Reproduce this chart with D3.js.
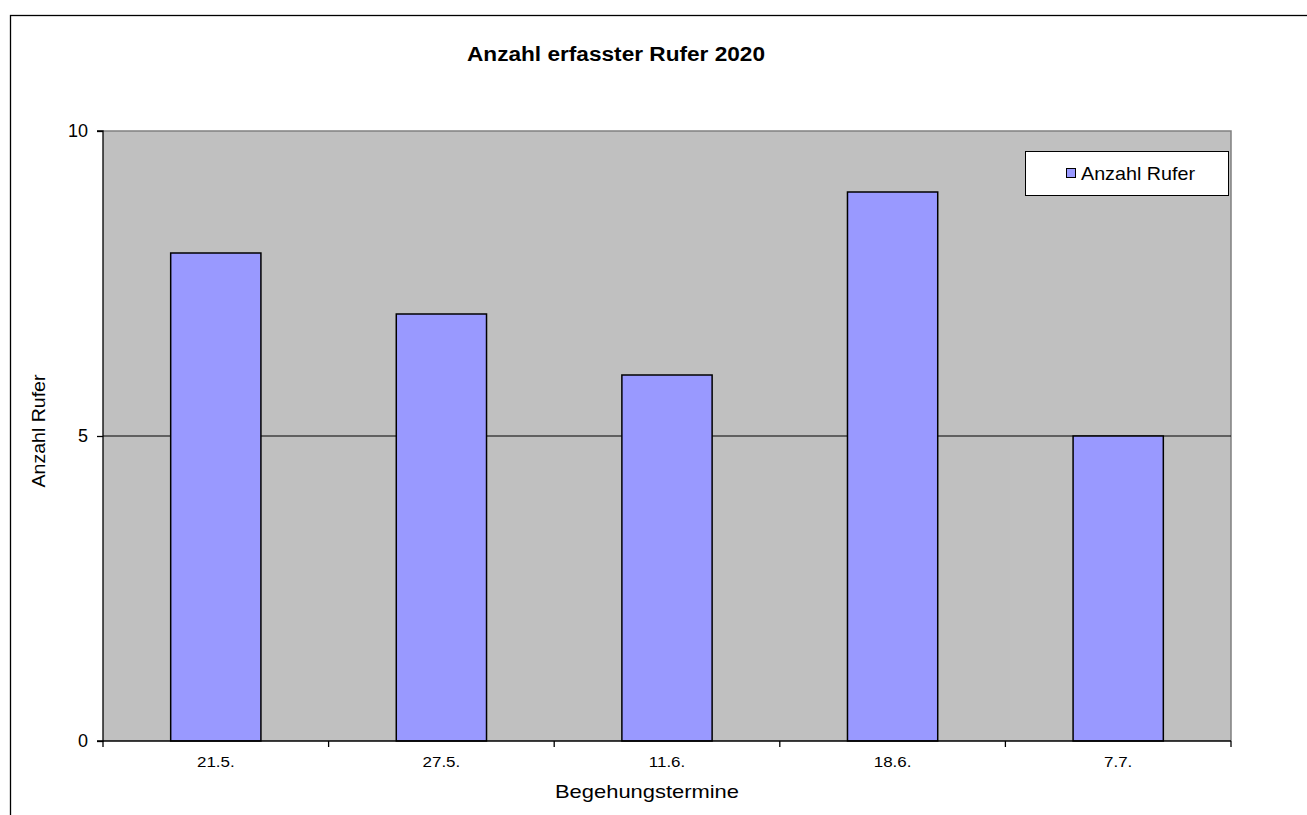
<!DOCTYPE html>
<html><head><meta charset="utf-8">
<script src="https://cdn.jsdelivr.net/npm/d3@7"></script>
<style>body{margin:0;background:#fff}svg{display:block}text{font-family:"Liberation Sans",Arial,sans-serif;fill:#000}</style>
</head><body>
<script>
const categories = ["21.5.", "27.5.", "11.6.", "18.6.", "7.7."];
const values = [8, 7, 6, 9, 5];
const yTicks = [0, 5, 10];
const seriesName = "Anzahl Rufer";
const title = "Anzahl erfasster Rufer 2020";
const xTitle = "Begehungstermine";
const yTitle = "Anzahl Rufer";

const W = 1307, H = 815;
const svg = d3.select("body").append("svg").attr("width", W).attr("height", H);
svg.append("rect").attr("x", 10.5).attr("y", 15.5).attr("width", 1400).attr("height", 900)
  .attr("fill", "#fff").attr("stroke", "#000").attr("stroke-width", 1.3);

function stretch(sel, factor) {
  sel.each(function () {
    const n = this.getComputedTextLength();
    d3.select(this).attr("textLength", n * factor).attr("lengthAdjust", "spacingAndGlyphs");
  });
}

const L = 103, R = 1231, T = 131, B = 741;
const x = d3.scaleBand().domain(categories).range([L, R]).paddingInner(0.6).paddingOuter(0.3);
const xb = d3.scaleBand().domain(categories).range([L, R]);
const y = d3.scaleLinear().domain([0, 10]).range([B, T]);

svg.append("rect").attr("x", L).attr("y", T).attr("width", R - L).attr("height", B - T)
  .attr("fill", "#c0c0c0");
svg.append("path").attr("d", `M${L},${T}H${R}V${B}`).attr("fill", "none").attr("stroke", "#808080").attr("stroke-width", 1.5);

// gridline at 5
svg.selectAll(".grid").data(yTicks.filter(d => d > 0 && d < 10)).enter().append("line")
  .attr("x1", L).attr("x2", R).attr("y1", d => y(d)).attr("y2", d => y(d))
  .attr("stroke", "#000").attr("stroke-width", 1);

svg.selectAll(".bar").data(values).enter().append("rect")
  .attr("x", (d, i) => x(categories[i])).attr("width", x.bandwidth())
  .attr("y", d => y(d)).attr("height", d => B - y(d))
  .attr("fill", "#9999ff").attr("stroke", "#000").attr("stroke-width", 1.5);

// y axis
const yAxis = d3.axisLeft(y).tickValues(yTicks).tickSize(6).tickPadding(9).tickFormat(d3.format("d"));
const gy = svg.append("g").attr("transform", `translate(${L},0)`).call(yAxis);
gy.attr("font-size", null).attr("font-family", null);
gy.select(".domain").attr("stroke", "#000").attr("stroke-width", 1.3).attr("d", `M-6,${T}H0V${B}H-6`);
gy.selectAll(".tick line").attr("stroke", "#000").attr("stroke-width", 1.3);
gy.selectAll(".tick text").style("font-size", "18px").attr("fill", "#000");

// x axis
const xAxis = d3.axisBottom(xb).tickSize(0).tickPadding(15);
const gx = svg.append("g").attr("transform", `translate(0,${B})`).call(xAxis);
gx.attr("font-size", null).attr("font-family", null);
gx.select(".domain").attr("stroke", "#000").attr("stroke-width", 1.5).attr("d", `M${L},0H${R}`);
gx.selectAll(".tick text").style("font-size", "15px").attr("fill", "#000").call(stretch, 1.13);
const bounds = categories.map(c => xb(c)).concat([R]);
svg.selectAll(".xt").data(bounds).enter().append("line")
  .attr("x1", d => d).attr("x2", d => d).attr("y1", B).attr("y2", B + 6)
  .attr("stroke", "#000").attr("stroke-width", 1.3);

// titles
svg.append("text").attr("x", 616).attr("y", 61).attr("text-anchor", "middle")
  .style("font-size", "19.5px").attr("font-weight", "bold").text(title)
  .attr("textLength", 298).attr("lengthAdjust", "spacingAndGlyphs");
svg.append("text").attr("x", 647).attr("y", 798).attr("text-anchor", "middle")
  .style("font-size", "18.5px").text(xTitle)
  .attr("textLength", 184).attr("lengthAdjust", "spacingAndGlyphs");
svg.append("text").attr("transform", "translate(45,431) rotate(-90)").attr("text-anchor", "middle")
  .style("font-size", "18.5px").text(yTitle)
  .attr("textLength", 113).attr("lengthAdjust", "spacingAndGlyphs");

// legend
const lg = svg.append("g");
lg.append("rect").attr("x", 1025.5).attr("y", 151.5).attr("width", 203).attr("height", 44)
  .attr("fill", "#fff").attr("stroke", "#000").attr("stroke-width", 1);
lg.append("rect").attr("x", 1066.5).attr("y", 168.5).attr("width", 9).attr("height", 9)
  .attr("fill", "#9999ff").attr("stroke", "#000").attr("stroke-width", 1);
lg.append("text").attr("x", 1081).attr("y", 180).style("font-size", "18.5px").text(seriesName)
  .attr("textLength", 114).attr("lengthAdjust", "spacingAndGlyphs");
</script>
</body></html>
